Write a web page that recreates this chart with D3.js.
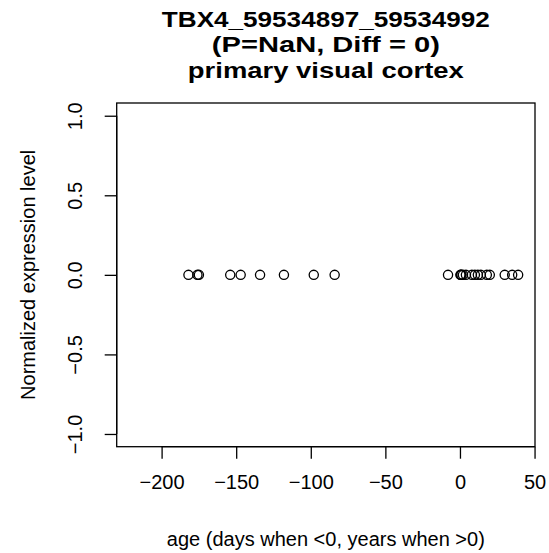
<!DOCTYPE html>
<html><head><meta charset="utf-8">
<script src="https://cdn.jsdelivr.net/npm/d3@7"></script>
<style>body{margin:0;background:#fff}svg{display:block;font-family:"Liberation Sans",Arial,sans-serif}</style>
</head><body>
<script>
const titleLines = ["TBX4_59534897_59534992", "(P=NaN, Diff = 0)", "primary visual cortex"];
const xLabel = "age (days when <0, years when >0)";
const yLabel = "Normalized expression level";
const ages = [-182, -176, -175, -154, -147, -134, -118, -98, -84, -8, 0.3, 0.6, 1, 2, 4, 8, 10, 12, 14, 18, 20, 30, 35, 39];
const values = [0, 0, 0, 0, 0, 0, 0, 0, 0, 0, 0, 0, 0, 0, 0, 0, 0, 0, 0, 0, 0, 0, 0, 0];
const xTicks = [-200, -150, -100, -50, 0, 50];
const yTicks = [-1.0, -0.5, 0.0, 0.5, 1.0];

const W = 549, H = 553;
const L = 116.7, R = 535, T = 103, B = 446.7;
const FS = 20, LFS = 20, TFS = 22.5;
const titleWidths = [328, 228, 276];
const svg = d3.select("body").append("svg").attr("width", W).attr("height", H);
const x = d3.scaleLinear().domain([-230.1, 50.3]).range([L, R]);
const y = d3.scaleLinear().domain([-1.08, 1.08]).range([B, T]);

svg.append("rect").attr("x", L).attr("y", T).attr("width", R - L).attr("height", B - T)
  .attr("fill", "none").attr("stroke", "#000").attr("stroke-width", 1.3);

const fmtMinus = s => s.replace("-", "\u2212");
const xAxis = svg.append("g").attr("transform", `translate(0,${B})`)
  .call(d3.axisBottom(x).tickValues(xTicks).tickSize(12).tickPadding(16).tickFormat(d => fmtMinus(String(d))));
xAxis.select(".domain").attr("d", `M${x(-200)},0H${x(50)}`).attr("stroke-width", 1.3);
xAxis.selectAll(".tick line").attr("stroke-width", 1.3);
xAxis.selectAll("text").attr("font-size", FS).attr("font-family", "Liberation Sans, Arial, sans-serif").attr("fill", "#000");

const yAxis = svg.append("g").attr("transform", `translate(${L},0)`)
  .call(d3.axisLeft(y).tickValues(yTicks).tickSize(12).tickFormat(d => fmtMinus(d3.format(".1f")(d))));
yAxis.select(".domain").attr("d", `M0,${y(-1)}V${y(1)}`).attr("stroke-width", 1.3);
yAxis.selectAll(".tick line").attr("stroke-width", 1.3);
yAxis.selectAll(".tick text").remove();
yAxis.selectAll(".tick").append("text")
  .attr("transform", `translate(${82 - L},0) rotate(-90)`)
  .attr("text-anchor", "middle")
  .attr("font-size", FS).attr("fill", "#000")
  .text(d => fmtMinus(d3.format(".1f")(d)));

svg.append("g").selectAll("circle").data(ages).join("circle")
  .attr("cx", d => x(d)).attr("cy", (d, i) => y(values[i])).attr("r", 4.6)
  .attr("fill", "none").attr("stroke", "#000").attr("stroke-width", 1.3);

svg.append("g").selectAll("text").data(titleLines).join("text")
  .attr("x", (L + R) / 2).attr("y", (d, i) => 26.5 + i * 25.5)
  .attr("text-anchor", "middle").attr("font-weight", "bold").attr("font-size", TFS)
  .attr("textLength", (d, i) => titleWidths[i]).attr("lengthAdjust", "spacingAndGlyphs")
  .text(d => d);

svg.append("text").attr("x", (L + R) / 2).attr("y", 546).attr("text-anchor", "middle")
  .attr("font-size", LFS).text(xLabel);
svg.append("text").attr("transform", `translate(35,${(T + B) / 2}) rotate(-90)`)
  .attr("text-anchor", "middle").attr("font-size", LFS).text(yLabel);
</script>
</body></html>
